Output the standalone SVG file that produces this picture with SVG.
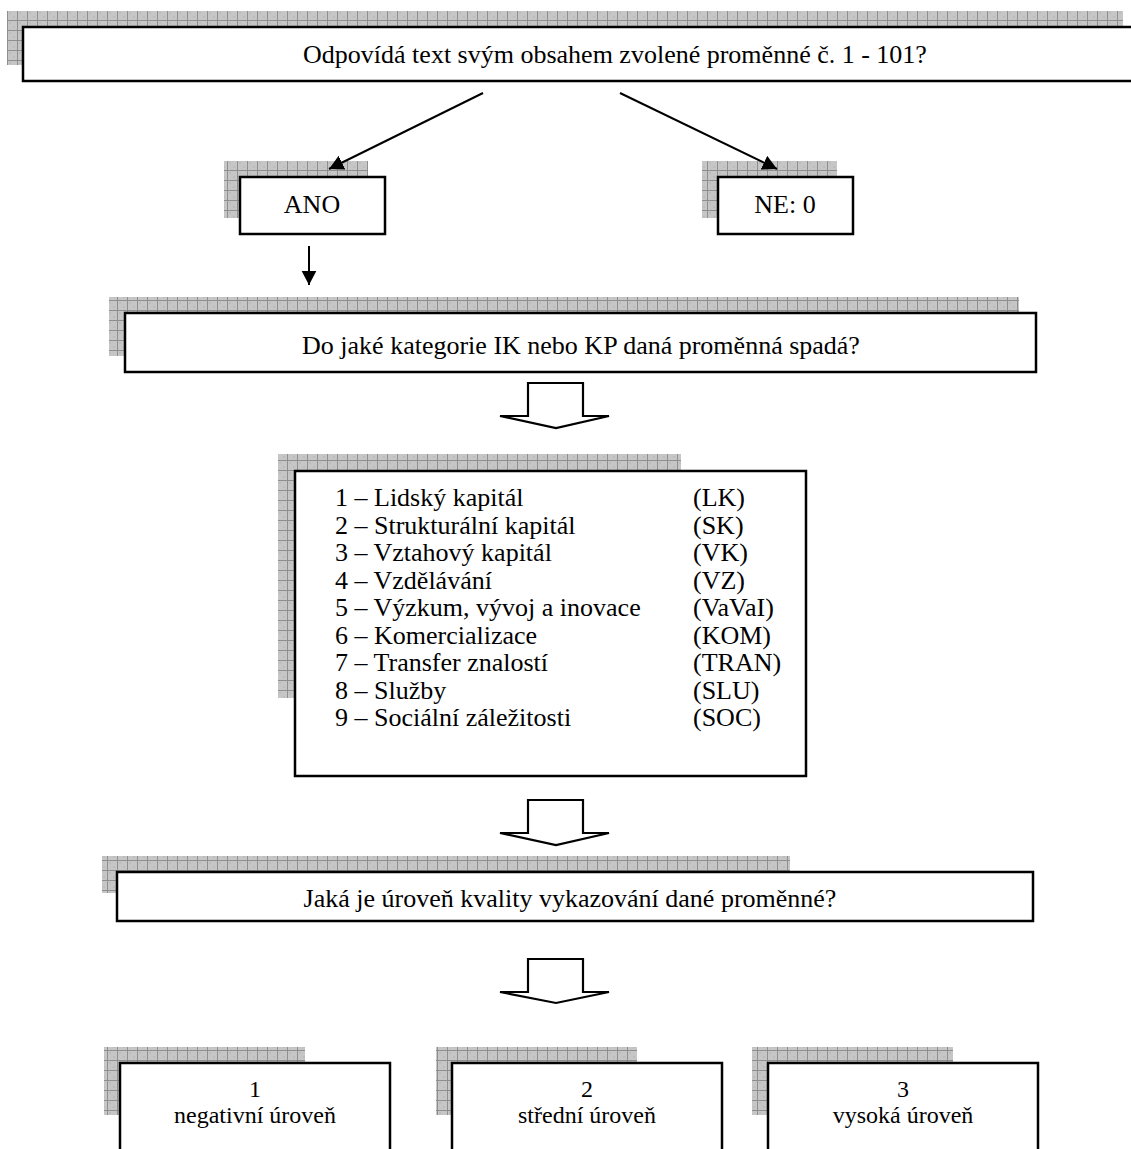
<svg xmlns="http://www.w3.org/2000/svg" width="1131" height="1149" viewBox="0 0 1131 1149">
<defs>
<pattern id="grid" patternUnits="userSpaceOnUse" x="7" y="0" width="10" height="10">
<rect width="10" height="10" fill="#c6c6c6"/>
<rect x="2" y="2" width="2" height="2" fill="#bcbcbc"/>
<rect x="6" y="6" width="2" height="2" fill="#bcbcbc"/>
<path d="M0.5 0V10M0 0.5H10" stroke="#8e8e8e" stroke-width="1"/>
</pattern>
<marker id="ah" markerUnits="userSpaceOnUse" markerWidth="16" markerHeight="16" refX="14.5" refY="7.6" orient="auto" viewBox="0 0 16 16">
<path d="M0 0L14.5 7.6L0 15.2Z" fill="#000"/>
</marker>
</defs>
<style>
.sh{fill:url(#grid)}
.bx{fill:#fff;stroke:#000;stroke-width:2.5}
.t{font-family:"Liberation Serif","Times New Roman",serif;font-size:26px;fill:#000}
.s{font-size:24px}
.c{text-anchor:middle}
.ln{stroke:#000;stroke-width:2;fill:none}
.ha{fill:#fff;stroke:#000;stroke-width:2.2;stroke-linejoin:miter}
</style>
<rect width="1131" height="1149" fill="#fff"/>

<g id="q1">
<rect class="sh" x="7" y="11" width="1116" height="54"/>
<rect class="bx" x="23" y="27" width="1130" height="54"/>
<text class="t c" x="615" y="63">Odpovídá text svým obsahem zvolené proměnné č. 1 - 101?</text>
</g>

<g id="ano">
<rect class="sh" x="224" y="161" width="144" height="57"/>
<rect class="bx" x="240" y="177" width="145" height="57"/>
<text class="t c" x="312" y="213">ANO</text>
</g>

<g id="ne">
<rect class="sh" x="702" y="161" width="135" height="57"/>
<rect class="bx" x="718" y="177" width="135" height="57"/>
<text class="t c" x="785" y="213">NE: 0</text>
</g>

<g id="q2">
<rect class="sh" x="109" y="297" width="910" height="59"/>
<rect class="bx" x="125" y="313" width="911" height="59"/>
<text class="t c" x="581" y="354">Do jaké kategorie IK nebo KP daná proměnná spadá?</text>
</g>

<g id="list">
<rect class="sh" x="278" y="454" width="403" height="244"/>
<rect class="bx" x="295" y="471" width="511" height="305"/>
<text class="t" x="335" y="506">1 – Lidský kapitál</text>
<text class="t" x="335" y="533.5">2 – Strukturální kapitál</text>
<text class="t" x="335" y="561">3 – Vztahový kapitál</text>
<text class="t" x="335" y="588.5">4 – Vzdělávání</text>
<text class="t" x="335" y="616">5 – Výzkum, vývoj a inovace</text>
<text class="t" x="335" y="643.5">6 – Komercializace</text>
<text class="t" x="335" y="671">7 – Transfer znalostí</text>
<text class="t" x="335" y="698.5">8 – Služby</text>
<text class="t" x="335" y="726">9 – Sociální záležitosti</text>
<text class="t" x="693" y="506">(LK)</text>
<text class="t" x="693" y="533.5">(SK)</text>
<text class="t" x="693" y="561">(VK)</text>
<text class="t" x="693" y="588.5">(VZ)</text>
<text class="t" x="693" y="616">(VaVaI)</text>
<text class="t" x="693" y="643.5">(KOM)</text>
<text class="t" x="693" y="671">(TRAN)</text>
<text class="t" x="693" y="698.5">(SLU)</text>
<text class="t" x="693" y="726">(SOC)</text>
</g>

<g id="q3">
<rect class="sh" x="102" y="856" width="688" height="37"/>
<rect class="bx" x="117" y="872" width="916" height="49"/>
<text class="t c" x="570" y="907">Jaká je úroveň kvality vykazování dané proměnné?</text>
</g>

<g id="l1">
<rect class="sh" x="104" y="1047" width="201" height="68"/>
<rect class="bx" x="120" y="1063" width="270" height="100"/>
<text class="t s c" x="255" y="1097">1</text>
<text class="t s c" x="255" y="1123">negativní úroveň</text>
</g>

<g id="l2">
<rect class="sh" x="436" y="1047" width="201" height="68"/>
<rect class="bx" x="452" y="1063" width="270" height="100"/>
<text class="t s c" x="587" y="1097">2</text>
<text class="t s c" x="587" y="1123">střední úroveň</text>
</g>

<g id="l3">
<rect class="sh" x="752" y="1047" width="201" height="68"/>
<rect class="bx" x="768" y="1063" width="270" height="100"/>
<text class="t s c" x="903" y="1097">3</text>
<text class="t s c" x="903" y="1123">vysoká úroveň</text>
</g>

<g id="connectors">
<line class="ln" x1="483" y1="93" x2="329" y2="169" marker-end="url(#ah)"/>
<line class="ln" x1="620" y1="93" x2="777" y2="169" marker-end="url(#ah)"/>
<line class="ln" x1="309" y1="246" x2="309" y2="285" marker-end="url(#ah)"/>
<polygon class="ha" points="528,383 583,383 583,416 609,416 556,428 500,416 528,416"/>
<polygon class="ha" points="528,800 583,800 583,833 609,833 556,845 500,833 528,833"/>
<polygon class="ha" points="528,959 583,959 583,992 609,992 556,1003 500,992 528,992"/>
</g>
</svg>
